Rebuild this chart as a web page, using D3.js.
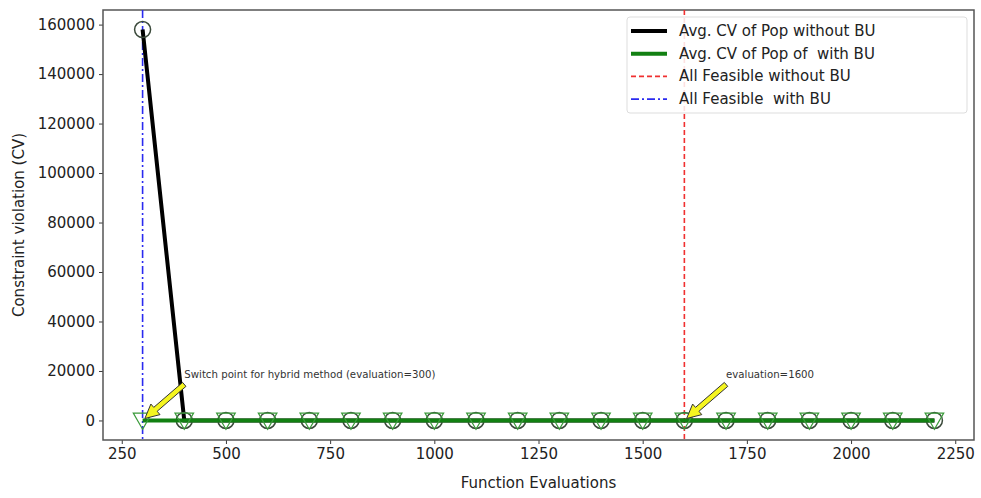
<!DOCTYPE html>
<html>
<head>
<meta charset="utf-8">
<script src="https://cdn.jsdelivr.net/npm/d3@7"></script>
<style>
  html, body { margin: 0; padding: 0; background: #fff; }
  svg { display: block; font-family: "DejaVu Sans", sans-serif; }
</style>
</head>
<body>
<svg id="chart" width="981" height="498"></svg>
<script>
// ---------- data ----------
const evaluations = [300, 400, 500, 600, 700, 800, 900, 1000, 1100, 1200, 1300, 1400, 1500, 1600, 1700, 1800, 1900, 2000, 2100, 2200];
const cvWithoutBU = [158000, 0, 0, 0, 0, 0, 0, 0, 0, 0, 0, 0, 0, 0, 0, 0, 0, 0, 0, 0];
const cvWithBU    = [0, 0, 0, 0, 0, 0, 0, 0, 0, 0, 0, 0, 0, 0, 0, 0, 0, 0, 0, 0];
const feasibleWithoutBU = 1600;
const feasibleWithBU = 300;
const xTicks = [250, 500, 750, 1000, 1250, 1500, 1750, 2000, 2250];
const yTicks = [0, 20000, 40000, 60000, 80000, 100000, 120000, 140000, 160000];
const legendLabels = ["Avg. CV of Pop without BU", "Avg. CV of Pop of  with BU", "All Feasible without BU", "All Feasible  with BU"];
const annotations = [
  { text: "Switch point for hybrid method (evaluation=300)", x: 300, y: 0, tx: 400, ty: 17000 },
  { text: "evaluation=1600", x: 1600, y: 0, tx: 1700, ty: 17000 }
];

// ---------- layout ----------
const svg = d3.select("#chart");
const L = 103, R = 974, T = 10, B = 440;
const x = d3.scaleLinear().domain([205, 2295]).range([L, R]);
const y = d3.scaleLinear().domain([-7900, 165900]).range([B, T]);
const axisColor = "#3a3a3a";

// axes
const xAxis = svg.append("g").attr("transform", `translate(0,${B})`)
  .call(d3.axisBottom(x).tickValues(xTicks).tickSize(4).tickPadding(4).tickFormat(d3.format("d")));
const yAxis = svg.append("g").attr("transform", `translate(${L},0)`)
  .call(d3.axisLeft(y).tickValues(yTicks).tickSize(4).tickPadding(4).tickFormat(d3.format("d")));
[xAxis, yAxis].forEach(a => {
  a.select(".domain").remove();
  a.selectAll(".tick line").attr("stroke", axisColor);
  a.selectAll(".tick text").attr("fill", "#222").style("font-size", "15px").style("font-family", "DejaVu Sans");
});

// frame
svg.append("rect").attr("x", L).attr("y", T).attr("width", R - L).attr("height", B - T)
  .attr("fill", "none").attr("stroke", "#555").attr("stroke-width", 1.5);

const clip = svg.append("defs").append("clipPath").attr("id", "clip")
  .append("rect").attr("x", L).attr("y", T).attr("width", R - L).attr("height", B - T);
const plot = svg.append("g").attr("clip-path", "url(#clip)");

// vertical lines
plot.append("line").attr("x1", x(feasibleWithoutBU)).attr("x2", x(feasibleWithoutBU))
  .attr("y1", T).attr("y2", B).attr("stroke", "#f03030").attr("stroke-width", 1.6)
  .attr("stroke-dasharray", "5,3");
plot.append("line").attr("x1", x(feasibleWithBU)).attr("x2", x(feasibleWithBU))
  .attr("y1", T).attr("y2", B).attr("stroke", "#2a2af0").attr("stroke-width", 1.6)
  .attr("stroke-dasharray", "8,3,2,3");

// lines
const lineGen = d3.line().x(d => x(d[0])).y(d => y(d[1]));
const blackData = evaluations.map((e, i) => [e, cvWithoutBU[i]]);
const greenData = evaluations.map((e, i) => [e, cvWithBU[i]]);

plot.append("path").datum(blackData).attr("d", lineGen)
  .attr("fill", "none").attr("stroke", "#000").attr("stroke-width", 4);

// circle markers (without BU)
plot.selectAll("circle.m").data(blackData).join("circle").attr("class", "m")
  .attr("cx", d => x(d[0])).attr("cy", d => y(d[1])).attr("r", 8)
  .attr("fill", "none").attr("stroke", "#3b4a3b").attr("stroke-width", 1.5);

plot.append("path").datum(greenData).attr("d", lineGen)
  .attr("fill", "none").attr("stroke", "#128012").attr("stroke-width", 4);

// triangle-down markers (with BU)
const tri = d3.symbol().type(d3.symbolTriangle).size(150);
plot.selectAll("path.t").data(greenData).join("path").attr("class", "t")
  .attr("d", tri)
  .attr("transform", d => `translate(${x(d[0])},${y(d[1]) - 2}) rotate(180)`)
  .attr("fill", "none").attr("stroke", "#3a9a3a").attr("stroke-width", 1.2);

// annotations with yellow arrows
annotations.forEach(a => {
  const tx = x(a.tx), ty = y(a.ty);
  const sx = tx, sy = ty + 6;
  const px = x(a.x), py = y(a.y);
  const dx = px - sx, dy = py - sy;
  const len = Math.hypot(dx, dy);
  const ux = dx / len, uy = dy / len;
  const ex = px - ux * 3, ey = py - uy * 3;     // tip (shrunk)
  const nx = -uy, ny = ux;
  const hl = 14, hw = 7, sw = 2.6;
  const bx = ex - ux * hl, by = ey - uy * hl;
  const pts = [
    [sx + nx * sw, sy + ny * sw],
    [bx + nx * sw, by + ny * sw],
    [bx + nx * hw, by + ny * hw],
    [ex, ey],
    [bx - nx * hw, by - ny * hw],
    [bx - nx * sw, by - ny * sw],
    [sx - nx * sw, sy - ny * sw]
  ];
  svg.append("polygon").attr("points", pts.map(p => p.join(",")).join(" "))
    .attr("fill", "#f5f520").attr("stroke", "#333").attr("stroke-width", 1);
  svg.append("text").attr("x", tx).attr("y", ty).text(a.text)
    .attr("fill", "#333").style("font-size", "10.2px").style("font-family", "DejaVu Sans");
});

// axis labels
svg.append("text").attr("x", (L + R) / 2).attr("y", 488).attr("text-anchor", "middle")
  .text("Function Evaluations").attr("fill", "#222").style("font-size", "15px");
svg.append("text").attr("transform", `translate(24,${(T + B) / 2}) rotate(-90)`)
  .attr("text-anchor", "middle").text("Constraint violation (CV)")
  .attr("fill", "#222").style("font-size", "15px");

// legend
const lg = svg.append("g");
lg.append("rect").attr("x", 627).attr("y", 17).attr("width", 340).attr("height", 96)
  .attr("rx", 3).attr("fill", "#fff").attr("fill-opacity", 0.85).attr("stroke", "#ddd");
const legendStyles = [
  { color: "#000", width: 4, dash: null },
  { color: "#128012", width: 4, dash: null },
  { color: "#f03030", width: 1.6, dash: "5,3" },
  { color: "#2a2af0", width: 1.6, dash: "8,3,2,3" }
];
legendLabels.forEach((lab, i) => {
  const yy = 31 + i * 22.7;
  lg.append("line").attr("x1", 631).attr("x2", 667).attr("y1", yy).attr("y2", yy)
    .attr("stroke", legendStyles[i].color).attr("stroke-width", legendStyles[i].width)
    .attr("stroke-dasharray", legendStyles[i].dash);
  lg.append("text").attr("x", 679).attr("y", yy + 5).text(lab)
    .attr("fill", "#222").style("font-size", "15px").style("white-space", "pre")
    .attr("xml:space", "preserve");
});
</script>
</body>
</html>
